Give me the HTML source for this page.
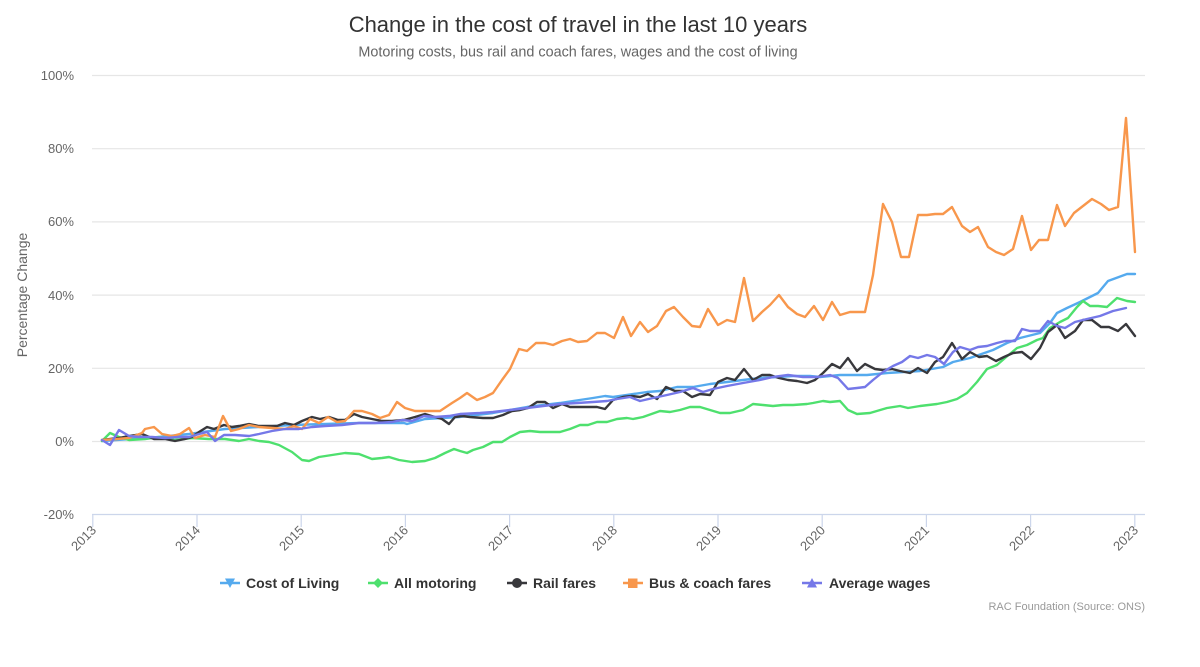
<!DOCTYPE html>
<html>
<head>
<meta charset="utf-8">
<style>
  html, body { margin:0; padding:0; background:#ffffff; }
  body { width:1200px; height:667px; overflow:hidden; }
  svg { display:block; font-family:"Liberation Sans", Arial, sans-serif; }
</style>
</head>
<body>
<svg width="1200" height="667" viewBox="0 0 1200 667" xmlns="http://www.w3.org/2000/svg">
  <rect x="0" y="0" width="1200" height="667" fill="#ffffff"/>

  <!-- Title -->
  <text x="578" y="32" text-anchor="middle" font-size="22" fill="#333333">Change in the cost of travel in the last 10 years</text>
  <text x="578" y="56.5" text-anchor="middle" font-size="14.4" fill="#666666">Motoring costs, bus rail and coach fares, wages and the cost of living</text>

  <!-- Gridlines -->
  <g stroke="#e6e6e6" stroke-width="1.2">
    <line x1="92" y1="75.5" x2="1145" y2="75.5"/>
    <line x1="92" y1="148.7" x2="1145" y2="148.7"/>
    <line x1="92" y1="221.9" x2="1145" y2="221.9"/>
    <line x1="92" y1="295.1" x2="1145" y2="295.1"/>
    <line x1="92" y1="368.3" x2="1145" y2="368.3"/>
    <line x1="92" y1="441.5" x2="1145" y2="441.5"/>
  </g>

  <!-- X axis line and ticks -->
  <g stroke="#ccd6eb" stroke-width="1.2">
    <line x1="92" y1="514.5" x2="1145" y2="514.5"/>
    <line x1="92.8" y1="514" x2="92.8" y2="527"/>
    <line x1="197" y1="514" x2="197" y2="527"/>
    <line x1="301.2" y1="514" x2="301.2" y2="527"/>
    <line x1="405.4" y1="514" x2="405.4" y2="527"/>
    <line x1="509.6" y1="514" x2="509.6" y2="527"/>
    <line x1="613.8" y1="514" x2="613.8" y2="527"/>
    <line x1="718" y1="514" x2="718" y2="527"/>
    <line x1="822.2" y1="514" x2="822.2" y2="527"/>
    <line x1="926.4" y1="514" x2="926.4" y2="527"/>
    <line x1="1030.6" y1="514" x2="1030.6" y2="527"/>
    <line x1="1134.8" y1="514" x2="1134.8" y2="527"/>
  </g>

  <!-- Y axis labels -->
  <g font-size="13" fill="#666666" text-anchor="end">
    <text x="74" y="80">100%</text>
    <text x="74" y="153">80%</text>
    <text x="74" y="226">60%</text>
    <text x="74" y="300">40%</text>
    <text x="74" y="373">20%</text>
    <text x="74" y="446">0%</text>
    <text x="74" y="519">-20%</text>
  </g>

  <!-- Y axis title -->
  <text transform="translate(27,295) rotate(-90)" text-anchor="middle" font-size="14" fill="#666666">Percentage Change</text>

  <!-- X axis labels -->
  <g font-size="13" fill="#666666" text-anchor="end">
    <text transform="translate(97,531) rotate(-45)">2013</text>
    <text transform="translate(201,531) rotate(-45)">2014</text>
    <text transform="translate(305,531) rotate(-45)">2015</text>
    <text transform="translate(409,531) rotate(-45)">2016</text>
    <text transform="translate(514,531) rotate(-45)">2017</text>
    <text transform="translate(618,531) rotate(-45)">2018</text>
    <text transform="translate(722,531) rotate(-45)">2019</text>
    <text transform="translate(826,531) rotate(-45)">2020</text>
    <text transform="translate(930,531) rotate(-45)">2021</text>
    <text transform="translate(1035,531) rotate(-45)">2022</text>
    <text transform="translate(1139,531) rotate(-45)">2023</text>
  </g>

  <!-- Series -->
  <g fill="none" stroke-width="2.4" stroke-linejoin="round" stroke-linecap="round">
    <!-- Cost of Living -->
    <polyline stroke="#55aaee" points="102,441 159,437 189,434 225,429 292,425 359,423 404,423 407,424 425,419 459,417 493,413 527,407 560,403 573,401 593,398 605,396 613,397 627,395 647,392 660,391 677,387 693,387 710,384 727,382 743,380 760,378 777,377 793,376 810,376 820,377 840,375 867,375 887,373 920,371 943,367 953,362 970,358 993,350 1007,343 1020,338 1040,333 1050,323 1057,313 1067,308 1080,302 1098,293 1108,281 1127,274 1135,274"/>
    <!-- All motoring -->
    <polyline stroke="#4ee06e" points="102,441 110,433 119,437 129,440 145,439 159,437 175,440 192,438 209,439 225,439 239,441 249,439 259,441 269,442 279,445 292,452 302,460 309,461 319,457 332,455 345,453 359,454 372,459 382,458 389,457 399,460 412,462 425,461 435,458 445,453 454,449 460,451 467,453 473,450 483,447 493,442 502,442 510,437 520,432 530,431 540,432 550,432 560,432 570,429 580,425 588,425 597,422 607,422 617,419 627,418 633,419 643,417 660,411 670,412 680,410 690,407 700,407 710,410 720,413 730,413 743,410 753,404 763,405 773,406 783,405 793,405 807,404 813,403 823,401 830,402 840,401 848,410 857,414 870,413 887,408 900,406 908,408 920,406 937,404 947,402 957,399 967,393 977,382 987,369 997,365 1005,358 1017,348 1027,345 1037,340 1043,338 1050,328 1060,322 1068,318 1077,307 1083,301 1090,306 1098,306 1107,307 1117,298 1127,301 1135,302"/>
    <!-- Rail fares -->
    <polyline stroke="#38383c" points="102,440 119,438 129,436 142,434 154,439 165,439 175,441 185,439 192,437 199,432 207,427 214,429 224,425 232,427 239,426 249,424 259,426 269,426 277,426 285,423 294,425 302,421 312,417 320,419 329,417 338,420 345,420 354,414 362,417 372,419 382,421 392,421 404,420 415,417 425,414 435,417 442,419 449,424 455,417 462,416 470,417 483,418 493,418 503,415 512,411 520,410 528,408 537,402 545,402 553,408 562,404 570,407 580,407 588,407 597,407 605,409 613,400 623,397 632,396 640,397 648,394 657,399 666,387 675,391 683,391 692,397 700,394 710,395 718,382 727,378 735,380 744,369 753,380 762,375 770,375 779,378 788,380 797,381 807,383 815,380 823,373 832,364 840,368 848,358 857,371 865,364 875,369 883,370 892,369 900,371 910,373 918,368 927,373 935,362 943,357 952,343 962,359 970,352 979,357 987,356 996,361 1004,357 1013,353 1022,352 1031,359 1040,348 1048,332 1057,325 1065,338 1075,331 1083,320 1092,320 1101,327 1109,327 1118,331 1126,324 1135,336"/>
    <!-- Bus & coach fares -->
    <polyline stroke="#f8974c" points="102,440 117,439 129,438 142,433 145,429 154,427 162,434 172,436 180,434 189,428 195,438 205,435 215,437 223,416 231,431 239,429 249,425 259,427 272,428 285,429 294,426 302,429 310,419 319,423 328,417 337,422 345,421 354,411 362,411 372,414 380,418 389,415 397,402 405,408 415,411 425,411 440,411 452,403 460,398 467,393 477,400 485,397 493,393 502,380 510,369 519,349 527,351 536,343 545,343 553,345 562,341 570,339 578,342 587,341 597,333 605,333 614,338 623,317 631,336 640,322 648,332 657,326 666,311 674,307 683,317 692,326 700,327 708,309 718,325 727,320 735,322 744,278 753,321 762,312 770,305 779,295 788,307 797,314 805,317 814,306 823,320 832,302 840,315 850,312 857,312 865,312 873,275 883,204 892,222 901,257 909,257 918,215 927,215 935,214 943,214 952,207 962,226 970,232 978,227 988,247 996,252 1004,255 1013,249 1022,216 1031,250 1039,240 1048,240 1057,205 1065,226 1074,213 1083,206 1092,199 1101,204 1109,210 1118,207 1126,118 1135,252"/>
    <!-- Average wages -->
    <polyline stroke="#7578e8" points="102,440 110,445 119,430 129,436 139,437 152,437 165,438 179,437 189,437 199,434 207,432 215,441 224,435 235,435 249,436 259,434 272,431 285,429 299,429 312,427 325,426 342,425 359,423 375,423 392,422 402,420 412,421 424,416 435,417 449,416 460,414 480,413 493,412 510,410 527,408 543,406 560,404 577,403 593,402 607,401 617,399 630,397 640,401 653,398 667,395 680,392 693,388 703,392 713,389 727,386 743,383 760,380 773,377 788,375 803,377 817,377 830,375 838,378 848,389 857,388 865,387 873,380 883,372 893,366 902,362 910,356 918,358 927,355 935,357 944,364 953,352 960,347 970,350 978,347 987,346 997,343 1005,341 1015,341 1022,329 1030,331 1040,331 1048,321 1057,326 1065,328 1075,322 1087,319 1100,316 1113,311 1126,308"/>
  </g>

  <!-- Legend -->
  <g font-size="14" font-weight="bold" fill="#333333">
    <!-- Cost of Living -->
    <line x1="220" y1="583" x2="240" y2="583" stroke="#55aaee" stroke-width="2.4"/>
    <polygon points="225,578.5 235,578.5 230,588" fill="#55aaee"/>
    <text x="246" y="588">Cost of Living</text>
    <!-- All motoring -->
    <line x1="368" y1="583" x2="388" y2="583" stroke="#4ee06e" stroke-width="2.4"/>
    <polygon points="378,578 383,583 378,588 373,583" fill="#4ee06e"/>
    <text x="394" y="588">All motoring</text>
    <!-- Rail fares -->
    <line x1="507" y1="583" x2="527" y2="583" stroke="#38383c" stroke-width="2.4"/>
    <circle cx="517" cy="583" r="5" fill="#38383c"/>
    <text x="533" y="588">Rail fares</text>
    <!-- Bus & coach fares -->
    <line x1="623" y1="583" x2="643" y2="583" stroke="#f8974c" stroke-width="2.4"/>
    <rect x="628" y="578.5" width="9.5" height="9.5" fill="#f8974c"/>
    <text x="649" y="588">Bus &amp; coach fares</text>
    <!-- Average wages -->
    <line x1="802" y1="583" x2="822" y2="583" stroke="#7578e8" stroke-width="2.4"/>
    <polygon points="812,578 817,587.5 807,587.5" fill="#7578e8"/>
    <text x="829" y="588">Average wages</text>
  </g>

  <!-- Credits -->
  <text x="1145" y="610" text-anchor="end" font-size="11" fill="#999999">RAC Foundation (Source: ONS)</text>
</svg>
</body>
</html>
